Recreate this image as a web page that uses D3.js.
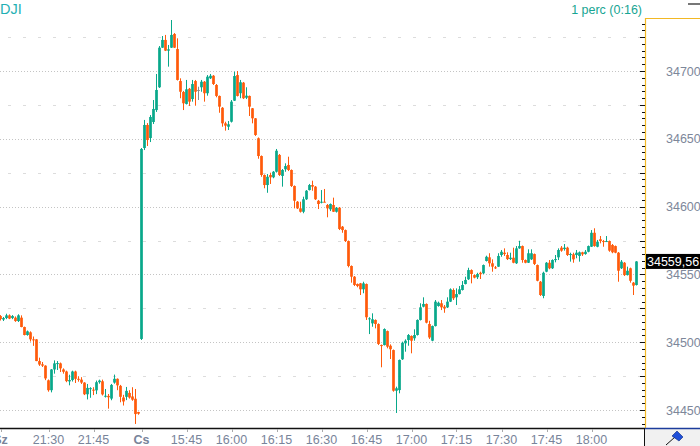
<!DOCTYPE html>
<html><head><meta charset="utf-8">
<script src="https://cdn.jsdelivr.net/npm/d3@7/dist/d3.min.js"></script>
<style>html,body{margin:0;padding:0;background:#fff;overflow:hidden}</style>
</head><body>
<svg id="c" width="700" height="446"></svg>
<script>
// ---- data (1-minute candles, previous session end + today) ----
const open = [
 34519.3,34516.7,34517.8,34519.8,34517.8,34518.1,34515.6,34518.1,34511.2,34505.3, // 0
 34507.3,34502.1,34502.1,34486.1,34483.7,34482.7,34471.9,34464.6,34479.9,34484.2, // 10
 34484.4,34479.9,34478.4,34471.1,34472.1,34478.4,34473.0,34472.4,34470.2,34461.6, // 20
 34465.5,34465.0,34464.5,34470.5,34471.2,34460.0,34460.4,34458.4,34470.2,34473.0, // 30
 34467.8,34459.2,34459.7,34462.6,34460.0,34458.3,34448.5,34502.4,34643.2,34660.2, // 40
 34650.6,34662.4,34671.2,34688.0,34717.2,34722.9,34715.0,34717.2,34727.3,34716.2, // 50
 34692.6,34684.5,34675.7,34686.9,34679.3,34692.6,34686.0,34688.0,34692.1,34683.6, // 60
 34694.6,34696.5,34689.7,34681.6,34672.9,34661.4,34658.9,34662.6,34678.1,34697.0, // 70
 34683.6,34691.4,34680.3,34681.6,34672.5,34665.1,34650.4,34637.3,34623.3,34615.9, // 80
 34623.3,34621.6,34625.7,34638.1,34622.6,34627.5,34630.7,34627.0,34615.2,34603.6, // 90
 34598.7,34596.2,34605.4,34612.2,34615.9,34614.7,34604.3,34602.9,34603.6,34601.2, // 100
 34598.0,34601.2,34596.2,34599.2,34585.2,34582.7,34574.6,34556.2,34548.3,34542.9, // 110
 34543.4,34539.0,34542.9,34516.9,34513.9,34516.4,34513.4,34497.9,34497.9,34508.2, // 120
 34497.4,34494.2,34464.2,34464.7,34487.4,34499.2,34501.6,34504.6,34502.9,34505.3, // 130
 34516.4,34526.2,34528.2,34513.4,34501.1,34511.9,34526.7,34528.7,34526.2,34525.7, // 140
 34529.9,34538.5,34533.1,34535.5,34538.5,34542.9,34546.4,34553.2,34549.5,34547.9, // 150
 34551.2,34550.8,34559.9,34562.6,34558.2,34555.2,34555.7,34564.3,34566.0,34564.3, // 160
 34561.3,34562.3,34558.2,34569.2,34570.9,34560.6,34558.6,34561.1,34565.0,34556.9, // 170
 34544.6,34534.1,34552.0,34558.6,34554.5,34560.6,34562.6,34569.7,34568.7,34569.7, // 180
 34564.3,34564.8,34564.3,34563.6,34566.3,34565.0,34566.7,34570.4,34580.7,34570.4, // 190
 34575.9,34574.6,34574.1,34574.6,34571.7,34570.9,34566.0,34554.5,34558.6,34549.5, // 200
 34554.5,34543.9,34542.2                                                          // 210
];
const high = [
 34520.0,34518.6,34521.0,34520.5,34520.0,34519.0,34520.6,34519.8,34511.5,34508.6,
 34508.0,34504.2,34502.3,34488.6,34485.4,34483.0,34472.5,34480.2,34486.6,34486.1,
 34485.0,34480.7,34479.0,34476.0,34479.0,34479.0,34474.9,34474.2,34470.5,34469.2,
 34466.8,34466.8,34471.7,34472.4,34472.4,34465.5,34461.8,34469.2,34476.1,34473.3,
 34468.5,34461.2,34467.0,34464.6,34466.8,34465.5,34448.7,34643.2,34663.9,34661.6,
 34667.5,34678.6,34697.8,34718.4,34725.8,34726.6,34719.2,34737.6,34728.0,34724.1,
 34694.6,34685.3,34693.4,34687.5,34693.4,34693.4,34688.4,34693.4,34692.6,34697.0,
 34697.8,34697.0,34690.4,34681.9,34673.4,34662.6,34663.1,34678.6,34699.5,34700.0,
 34693.4,34691.9,34688.0,34681.9,34672.7,34665.3,34651.0,34637.7,34623.7,34624.0,
 34625.0,34626.2,34642.5,34638.8,34627.7,34631.9,34636.8,34627.4,34615.6,34604.1,
 34603.6,34607.3,34612.2,34616.7,34619.1,34615.2,34604.9,34612.2,34613.0,34601.9,
 34602.3,34606.6,34599.7,34599.7,34585.7,34583.1,34575.0,34556.6,34548.8,34543.3,
 34543.7,34544.6,34543.3,34518.4,34521.3,34516.8,34513.9,34498.3,34510.2,34508.6,
 34498.4,34494.6,34467.2,34487.2,34500.4,34502.1,34506.0,34505.0,34509.5,34516.8,
 34528.7,34533.1,34528.6,34515.8,34512.3,34531.1,34529.9,34531.1,34527.4,34533.1,
 34539.7,34539.7,34539.7,34541.4,34545.1,34548.3,34554.9,34553.7,34549.9,34551.2,
 34552.0,34557.3,34563.8,34565.6,34561.1,34556.2,34565.6,34568.0,34569.2,34566.3,
 34566.0,34569.7,34570.9,34574.8,34571.3,34561.0,34568.5,34568.5,34565.4,34557.3,
 34545.1,34552.0,34559.1,34560.6,34561.1,34564.3,34569.2,34570.9,34572.4,34570.4,
 34566.0,34566.0,34568.0,34566.9,34566.7,34568.0,34571.3,34582.7,34584.0,34575.4,
 34578.3,34575.4,34578.3,34575.0,34572.4,34571.3,34566.5,34560.6,34559.1,34555.7,
 34555.0,34544.4,34559.8
];
const low = [
 34516.0,34515.6,34517.0,34517.0,34517.0,34515.0,34514.9,34511.0,34505.0,34504.8,
 34500.5,34497.3,34486.0,34482.5,34481.7,34472.0,34463.5,34463.0,34476.8,34479.5,
 34478.0,34476.8,34470.5,34468.2,34471.0,34469.9,34470.9,34469.2,34461.0,34457.8,
 34459.0,34461.0,34461.7,34469.4,34460.7,34459.2,34451.0,34457.2,34469.4,34464.6,
 34455.7,34453.3,34457.3,34458.4,34456.8,34439.7,34446.5,34501.6,34641.7,34644.7,
 34647.6,34660.9,34669.8,34687.5,34717.0,34714.7,34703.2,34717.0,34717.0,34693.0,
 34679.9,34671.2,34675.3,34674.2,34677.4,34674.4,34678.6,34684.7,34677.4,34681.8,
 34694.1,34689.7,34680.6,34669.2,34658.9,34656.0,34656.5,34662.0,34677.9,34681.2,
 34679.9,34679.3,34679.3,34666.8,34661.4,34652.1,34635.3,34622.0,34613.5,34610.2,
 34616.7,34620.9,34625.1,34622.6,34614.7,34625.7,34626.2,34614.5,34598.7,34598.2,
 34595.6,34595.1,34604.9,34611.9,34611.7,34604.9,34598.2,34602.4,34603.2,34592.1,
 34596.7,34596.0,34595.6,34582.7,34580.7,34573.9,34555.2,34543.9,34541.4,34540.5,
 34534.8,34536.1,34516.4,34506.0,34511.4,34510.2,34497.9,34481.5,34497.6,34495.5,
 34487.6,34463.5,34447.8,34462.3,34486.9,34493.0,34497.4,34491.8,34501.1,34504.9,
 34516.0,34525.7,34513.9,34502.4,34500.7,34511.6,34526.2,34523.7,34521.7,34525.2,
 34529.6,34531.1,34527.4,34535.2,34538.1,34542.6,34545.9,34543.4,34547.1,34546.6,
 34546.6,34550.3,34559.5,34555.7,34552.0,34554.0,34555.5,34563.0,34563.6,34560.6,
 34560.6,34558.2,34557.7,34568.9,34558.6,34558.2,34558.4,34560.6,34556.9,34544.9,
 34534.1,34532.4,34551.6,34553.8,34554.0,34558.9,34560.6,34566.7,34567.5,34563.6,
 34559.4,34558.6,34561.9,34559.4,34563.6,34564.5,34566.3,34570.2,34570.4,34570.0,
 34572.9,34570.4,34573.9,34566.7,34565.6,34565.6,34544.6,34554.0,34548.8,34549.2,
 34543.9,34534.8,34541.8
];
const close = [
 34517.1,34517.8,34519.8,34517.4,34519.3,34515.6,34519.8,34511.2,34505.3,34508.0,
 34502.1,34501.6,34486.1,34483.5,34482.7,34473.3,34464.6,34479.9,34484.4,34484.6,
 34480.7,34478.2,34471.3,34472.1,34478.4,34473.0,34472.4,34470.2,34461.6,34466.3,
 34466.1,34464.5,34470.5,34471.7,34461.5,34460.5,34459.4,34468.5,34473.0,34468.2,
 34459.7,34456.3,34464.1,34459.2,34457.6,34447.0,34447.3,34642.5,34660.2,34649.1,
 34666.1,34672.0,34686.0,34717.2,34722.9,34715.0,34716.0,34726.6,34717.2,34693.4,
 34684.7,34676.2,34686.5,34677.4,34690.4,34684.7,34686.0,34692.1,34683.6,34695.8,
 34696.5,34690.4,34681.6,34673.7,34661.4,34659.7,34660.7,34677.4,34696.3,34681.6,
 34691.7,34679.9,34681.8,34673.7,34665.1,34652.8,34637.3,34623.3,34615.9,34622.0,
 34621.6,34625.7,34641.2,34623.3,34627.0,34629.9,34627.0,34615.2,34604.3,34598.7,
 34596.2,34605.4,34611.7,34615.9,34614.7,34605.4,34601.9,34603.6,34603.4,34598.7,
 34601.9,34596.2,34599.2,34583.5,34582.7,34574.6,34556.2,34548.3,34542.2,34541.4,
 34539.0,34543.4,34518.4,34517.6,34516.9,34513.4,34498.7,34497.4,34509.7,34496.7,
 34494.8,34464.2,34466.0,34486.9,34499.6,34501.1,34505.3,34501.1,34505.3,34516.4,
 34525.7,34528.2,34514.4,34503.5,34511.9,34529.9,34529.1,34525.7,34525.0,34529.9,
 34539.0,34532.4,34535.5,34539.0,34542.2,34545.9,34553.2,34550.3,34547.6,34550.3,
 34550.1,34556.9,34563.0,34558.2,34555.7,34554.5,34563.6,34566.7,34565.0,34561.3,
 34562.3,34558.6,34569.2,34570.9,34560.6,34558.6,34565.6,34565.6,34557.7,34545.3,
 34534.8,34551.2,34558.6,34554.5,34560.6,34561.3,34568.0,34567.5,34569.7,34564.3,
 34565.0,34561.1,34566.0,34566.3,34564.8,34566.7,34570.9,34580.7,34570.9,34574.1,
 34574.6,34574.1,34574.6,34567.5,34566.3,34566.0,34552.7,34559.4,34549.5,34552.7,
 34545.3,34541.7,34559.56
];
const xTickIndex  = [0, 16, 31, 47, 62, 77, 92, 107, 122, 137, 152, 167, 182, 197];
const xTickLabels = ["Sz","21:30","21:45","Cs","15:45","16:00","16:15","16:30","16:45","17:00","17:15","17:30","17:45","18:00"];
const dayLabels   = ["Sz","Cs"];
const yMajorTicks = [34450, 34500, 34550, 34600, 34650, 34700];
const yMidLines   = [34475, 34525, 34575, 34625, 34675, 34725];
const lastPrice = 34559.56;
const symbol = "DJI";
const periodText = "1 perc (0:16)";

// ---- drawing ----
const UP = "#08a88a", DOWN = "#ff5a0a", FLAT = "#8a8a8a";
const svg = d3.select("#c");
const plotRight = 645, axisY = 428;
const n = open.length;
const x = d3.scaleLinear().domain([0, n - 1]).range([0.5, 0.5 + 3 * (n - 1)]);
const y = d3.scaleLinear().domain([34450, 34700]).range([410, 71]);
const font = "'Liberation Sans', Arial, sans-serif";

// grid
const grid = svg.append("g");
grid.selectAll("line.maj").data(yMajorTicks).join("line")
  .attr("x1", 0).attr("x2", plotRight).attr("y1", d => Math.round(y(d)) + 0.5).attr("y2", d => Math.round(y(d)) + 0.5)
  .attr("stroke", "#c4c4c4").attr("stroke-dasharray", "1,2");
grid.selectAll("line.mid").data(yMidLines).join("line")
  .attr("x1", 0).attr("x2", plotRight).attr("y1", d => Math.round(y(d)) + 0.5).attr("y2", d => Math.round(y(d)) + 0.5)
  .attr("stroke", "#dcdcdc").attr("stroke-dasharray", "3,12").attr("stroke-dashoffset", -8);

// candles
const idx = d3.range(n);
const col = i => close[i] > open[i] ? UP : (close[i] < open[i] ? DOWN : FLAT);
const cg = svg.append("g");
cg.selectAll("line.w").data(idx).join("line")
  .attr("x1", i => x(i)).attr("x2", i => x(i))
  .attr("y1", i => y(high[i])).attr("y2", i => y(low[i]))
  .attr("stroke", col).attr("stroke-width", 1);
cg.selectAll("rect.b").data(idx).join("rect")
  .attr("x", i => x(i) - 1.35).attr("width", 2.7)
  .attr("y", i => y(Math.max(open[i], close[i])))
  .attr("height", i => Math.max(1, Math.abs(y(open[i]) - y(close[i]))))
  .attr("fill", col);

// header texts
svg.append("text").attr("x", 0).attr("y", 14).text(symbol)
  .attr("font-family", font).attr("font-size", 14.5).attr("fill", "#1fb0b4");
svg.append("text").attr("x", 642).attr("y", 13.5).attr("text-anchor", "end").text(periodText)
  .attr("font-family", font).attr("font-size", 12.5).attr("fill", "#17a593");

// right price axis
const ax = svg.append("g");
ax.append("line").attr("x1", plotRight + 0.5).attr("x2", plotRight + 0.5).attr("y1", 18).attr("y2", axisY)
  .attr("stroke", "#f2b824").attr("stroke-width", 1.2);
ax.append("line").attr("x1", plotRight).attr("x2", 700).attr("y1", 18.5).attr("y2", 18.5)
  .attr("stroke", "#f2b824").attr("stroke-width", 1.2);
ax.append("line").attr("x1", 688).attr("x2", 700).attr("y1", 4).attr("y2", 4)
  .attr("stroke", "#777").attr("stroke-width", 2);
const minor = d3.range(34440, 34766, 5).filter(v => y(v) > 20 && y(v) < axisY - 2);
ax.selectAll("line.t").data(minor).join("line")
  .attr("x1", v => plotRight - (v % 25 === 0 ? 5 : 3)).attr("x2", plotRight)
  .attr("y1", v => Math.round(y(v)) + 0.5).attr("y2", v => Math.round(y(v)) + 0.5)
  .attr("stroke", "#111");
ax.selectAll("text.yl").data(yMajorTicks).join("text")
  .attr("x", 666).attr("y", v => y(v) + 4.5).text(v => v)
  .attr("font-family", font).attr("font-size", 12.5).attr("fill", "#7d879a");
// last price tag
ax.append("rect").attr("x", plotRight + 1).attr("y", y(lastPrice) - 7.5).attr("width", 700 - plotRight).attr("height", 15).attr("fill", "#000");
ax.append("text").attr("x", 647).attr("y", y(lastPrice) + 4.5).text(d3.format(".2f")(lastPrice).replace(".", ","))
  .attr("font-family", font).attr("font-size", 12.5).attr("fill", "#fff");

// bottom time axis
const bx = svg.append("g");
bx.append("line").attr("x1", 0).attr("x2", plotRight).attr("y1", axisY + 0.5).attr("y2", axisY + 0.5).attr("stroke", "#111").attr("stroke-width", 1.3);
bx.selectAll("line.xt").data(xTickIndex).join("line")
  .attr("x1", i => Math.round(x(i)) + 0.5).attr("x2", i => Math.round(x(i)) + 0.5)
  .attr("y1", axisY + 1).attr("y2", axisY + 4).attr("stroke", "#aaa");
bx.selectAll("text.xl").data(xTickIndex).join("text")
  .attr("x", i => x(i)).attr("y", 444).attr("text-anchor", "middle")
  .text((i, k) => xTickLabels[k])
  .attr("font-family", font).attr("font-size", 12.5)
  .attr("font-weight", (i, k) => dayLabels.includes(xTickLabels[k]) ? "bold" : "normal")
  .attr("fill", "#78849a");

// bottom-right corner box
bx.append("rect").attr("x", plotRight).attr("y", axisY).attr("width", 700 - plotRight).attr("height", 446 - axisY).attr("fill", "#f1f1f1");
bx.append("line").attr("x1", plotRight).attr("x2", 700).attr("y1", axisY + 0.5).attr("y2", axisY + 0.5).attr("stroke", "#1c3c9c").attr("stroke-width", 1.5);
bx.append("line").attr("x1", plotRight - 0.5).attr("x2", plotRight - 0.5).attr("y1", axisY).attr("y2", 446).attr("stroke", "#111");
bx.append("line").attr("x1", 666).attr("x2", 675).attr("y1", 445).attr("y2", 437).attr("stroke", "#111");
bx.append("path").attr("d", "M672,436 L677,431 L683,437 L679,441 Z").attr("fill", "#1f4fd8").attr("stroke", "#0a2a80").attr("stroke-width", 0.6);
</script>
</body></html>
